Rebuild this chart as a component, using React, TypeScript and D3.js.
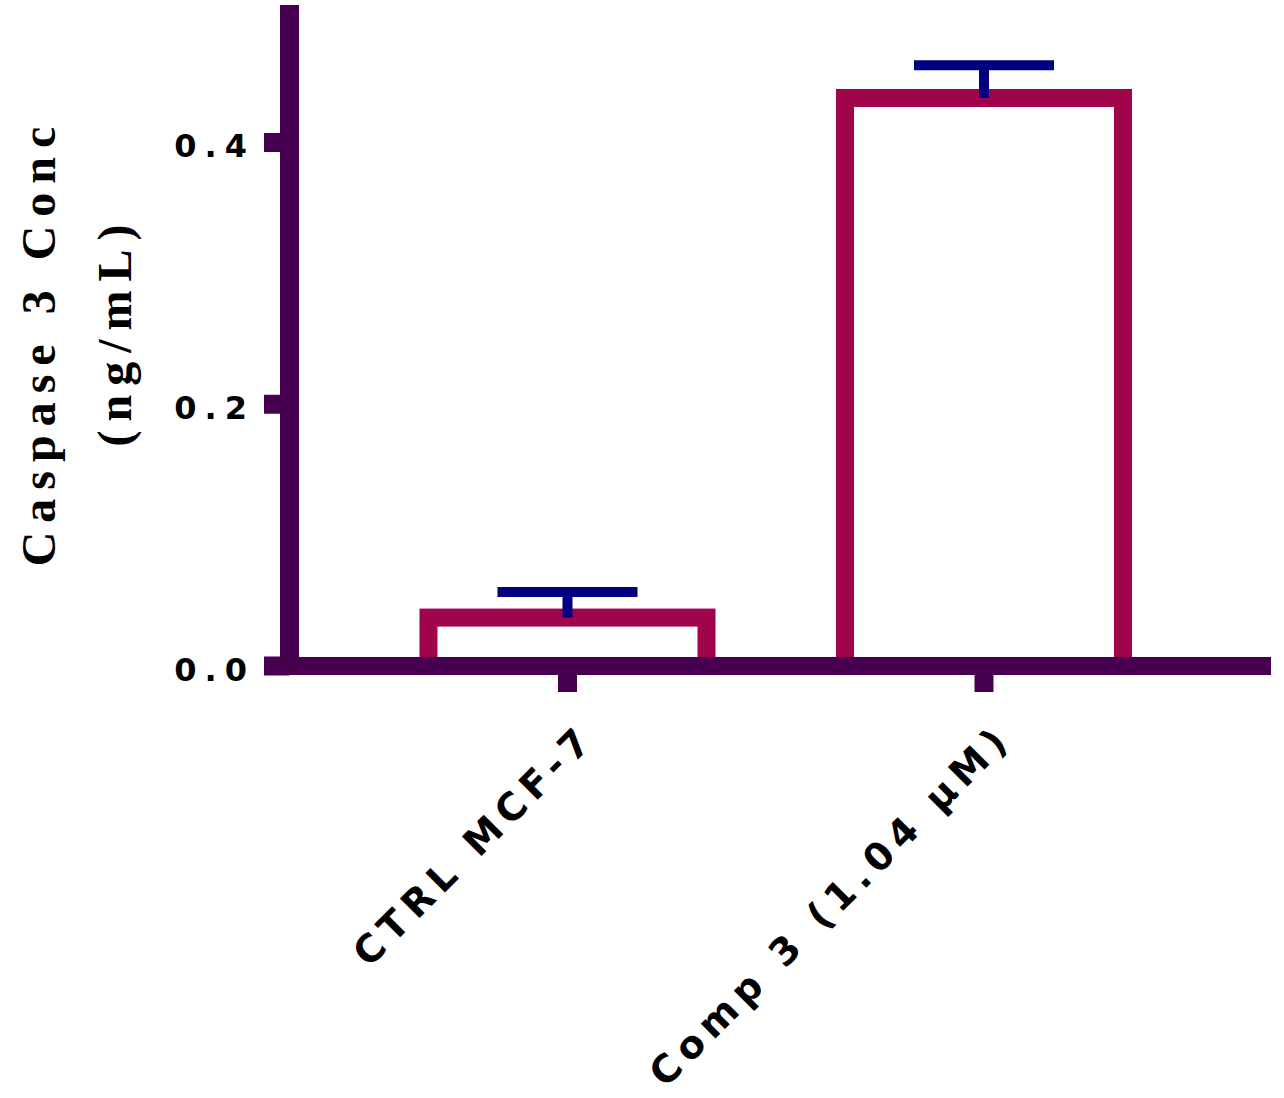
import React from "react";
import * as d3 from "d3";

const categories = ["CTRL MCF-7", "Comp 3 (1.04 µM)"];
const means = [0.037, 0.434];
const errors = [0.0195, 0.025];
const yTicks = [0, 0.2, 0.4];
const yTickLabels = ["0.0", "0.2", "0.4"];
const yLabelLines = ["Caspase 3 Conc", "(ng/mL)"];

const AXIS = "#46004f";
const BAR = "#a0044b";
const ERR = "#000080";
const SANS = "'DejaVu Sans', Verdana, sans-serif";

export default function App() {
  const y = d3.scaleLinear().domain([0, 0.4]).range([666, 142.5]);
  const x = d3
    .scaleBand<string>()
    .domain(categories)
    .range([359.25, 1192.25])
    .paddingInner(0.3325)
    .paddingOuter(0.3325 / 2);
  const bw = x.bandwidth();
  const yTop = y(0.505);
  const axisX = 289.5;
  const capW = 140;

  return (
    <div style={{ position: "absolute", left: 0, top: 0 }}>
      <svg width={1284} height={1098} style={{ display: "block", background: "#fff" }}>
        {/* bars */}
        {categories.map((c, i) => (
          <rect
            key={c}
            x={x(c)!}
            y={y(means[i])}
            width={bw}
            height={y(0) - y(means[i])}
            fill="none"
            stroke={BAR}
            strokeWidth={18}
          />
        ))}
        {/* error bars */}
        {categories.map((c, i) => {
          const cx = x(c)! + bw / 2;
          return (
            <g key={c + "e"} stroke={ERR} strokeWidth={10}>
              <line x1={cx} x2={cx} y1={y(means[i])} y2={y(means[i] + errors[i])} />
              <line x1={cx - capW / 2} x2={cx + capW / 2} y1={y(means[i] + errors[i])} y2={y(means[i] + errors[i])} />
            </g>
          );
        })}
        {/* axes */}
        <line x1={axisX} x2={axisX} y1={yTop} y2={y(0) + 9} stroke={AXIS} strokeWidth={19} />
        <line x1={264} x2={1271} y1={y(0)} y2={y(0)} stroke={AXIS} strokeWidth={18} />
        {yTicks.map((t) => (
          <line key={t} x1={264} x2={axisX} y1={y(t)} y2={y(t)} stroke={AXIS} strokeWidth={19} />
        ))}
        {categories.map((c) => {
          const cx = x(c)! + bw / 2;
          return <line key={c + "t"} x1={cx} x2={cx} y1={y(0)} y2={692} stroke={AXIS} strokeWidth={19} />;
        })}
        {/* y tick labels */}
        {yTicks.map((t, i) => (
          <text
            key={t + "l"}
            x={255}
            y={y(t) + 14.5}
            textAnchor="end"
            fontFamily={SANS}
            fontWeight="bold"
            fontSize={32}
            letterSpacing={8}
            fill="#000"
          >
            {yTickLabels[i]}
          </text>
        ))}
        {/* x labels */}
        {categories.map((c) => {
          const cx = x(c)! + bw / 2;
          return (
            <text
              key={c + "xl"}
              transform={`translate(${cx + 30},${740}) rotate(-45)`}
              textAnchor="end"
              fontFamily={SANS}
              fontWeight="bold"
              fontSize={38}
              letterSpacing={7}
              fill="#000"
            >
              {c}
            </text>
          );
        })}
        {/* y axis label */}
        {yLabelLines.map((l, i) => (
          <text
            key={l}
            transform={`translate(${i === 0 ? 55 : 131},${i === 0 ? 342 : 331}) rotate(-90)`}
            textAnchor="middle"
            fontFamily="'Liberation Serif', 'Times New Roman', serif"
            fontWeight="bold"
            fontSize={48}
            letterSpacing={9}
            fill="#000"
          >
            {l}
          </text>
        ))}
      </svg>
    </div>
  );
}
